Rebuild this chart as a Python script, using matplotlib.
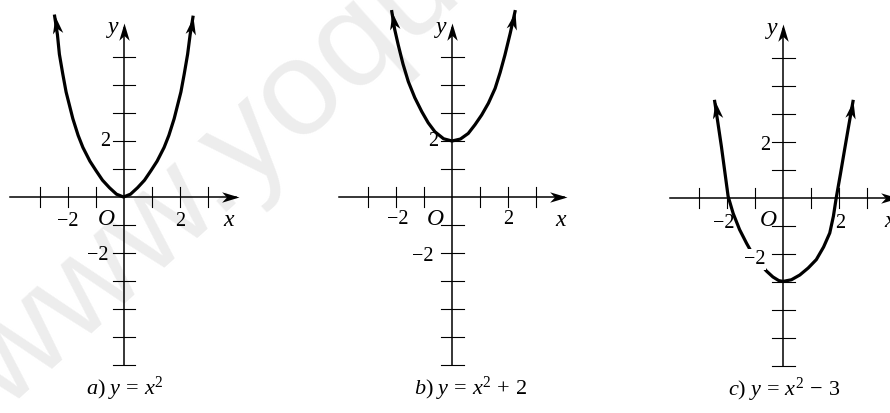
import numpy as np
import matplotlib
matplotlib.use("Agg")
import matplotlib.pyplot as plt
from matplotlib.markers import MarkerStyle
from matplotlib.path import Path
from matplotlib.transforms import Affine2D

plt.rcParams['font.family'] = ['Liberation Serif', 'DejaVu Serif']
plt.rcParams['mathtext.fontset'] = 'custom'
plt.rcParams['mathtext.rm'] = 'Liberation Serif'
plt.rcParams['mathtext.it'] = 'Liberation Serif:italic'

# curve points (x, y in axis units)
xa = [-2.46, -2.36, -2.29, -2.17, -2.05, -1.81, -1.62, -1.45, -1.2, -0.98, -0.75, -0.5, -0.25, 0,
      0.25, 0.5, 0.75, 0.98, 1.2, 1.45, 1.62, 1.81, 2.05, 2.17, 2.29, 2.38, 2.48]
ya = [6.46, 5.8, 5.1, 4.4, 3.75, 2.8, 2.2, 1.77, 1.28, 0.94, 0.6, 0.33, 0.1, 0,
      0.1, 0.33, 0.6, 0.94, 1.28, 1.77, 2.2, 2.8, 3.75, 4.4, 5.1, 5.8, 6.42]

xb = [-2.15, -2.05, -1.92, -1.75, -1.56, -1.33, -1.08, -0.85, -0.61, -0.3, 0,
      0.3, 0.58, 0.82, 1.06, 1.3, 1.54, 1.72, 1.89, 2.08, 2.25]
yb = [6.62, 6.0, 5.43, 4.75, 4.12, 3.55, 3.05, 2.65, 2.33, 2.08, 2.0,
      2.07, 2.27, 2.58, 2.93, 3.35, 3.88, 4.45, 5.07, 5.85, 6.62]

xc = [-2.44, -2.32, -2.2, -2.08, -1.96, -1.78, -1.55, -1.3, -1.07, -0.85, -0.6, -0.36, -0.15, 0,
      0.3, 0.6, 0.9, 1.19, 1.45, 1.67, 1.8, 1.9, 2.05, 2.2, 2.35, 2.5]
yc = [3.45, 2.65, 1.84, 0.95, 0.06, -0.55, -1.13, -1.62, -2.03, -2.3, -2.6, -2.82, -2.95, -2.98,
      -2.92, -2.75, -2.5, -2.2, -1.75, -1.25, -0.65, 0.0, 0.85, 1.73, 2.6, 3.45]

x_ticks = [-3, -2, -1, 1, 2, 3]
y_ticks = [5, 4, 3, 2, 1, -1, -2, -3, -4, -5, -6]

captions = [r'$a)\ y\,=\,x^2$', r'$b)\ y\,=\,x^2\,+\,2$', r'$c)\ y\,=\,x^2\,-\,3$']

W, H = 890, 413
PX = 28  # pixels per unit
origins = [(123.5, 197), (452, 197), (783, 198)]

fig = plt.figure(figsize=(W / 100, H / 100), dpi=100)

# faint watermark
fig.text(4 / W, 1 - 412 / H, 'www.yoquieroaprobar.es', fontsize=98, color='#ededed',
         family='Liberation Sans', rotation=42, rotation_mode='anchor',
         ha='left', va='baseline', zorder=-5)

STEALTH = Path([(0, 0), (-1, 0.3), (-0.72, 0), (-1, -0.3), (0, 0)],
               [Path.MOVETO, Path.LINETO, Path.LINETO, Path.LINETO, Path.CLOSEPOLY])


def arrowhead(ax, x0, y0, x1, y1, ms=25):
    ang = np.degrees(np.arctan2(y1 - y0, x1 - x0))
    m = MarkerStyle(STEALTH, transform=Affine2D().rotate_deg(ang))
    ax.plot([x1], [y1], marker=m, ms=ms, color='k', mew=0, clip_on=False, zorder=4)


def panel(ox, oy, xs, ys, caption, cap_x, labels, o_x, xl_x):
    left = ox - 4.5 * PX
    bottom = (H - oy) - 7.0 * PX
    ax = fig.add_axes([left / W, bottom / H, 9 * PX / W, 14.3 * PX / H])
    ax.set_xlim(-4.5, 4.5)
    ax.set_ylim(-7.0, 7.3)
    ax.axis('off')

    # axes with arrows
    ax.plot([-4.05, 4.0], [0, 0], color='k', lw=1.1, clip_on=False)
    arrowhead(ax, 0, 0, 4.12, 0)
    ax.plot([0, 0], [-6, 6.05], color='k', lw=1.1, clip_on=False)
    arrowhead(ax, 0, 0, 0, 6.2)
    for t in x_ticks:
        ax.plot([t, t], [-0.36, 0.36], color='k', lw=0.8)
    for t in y_ticks:
        ax.plot([-0.38, 0.42], [t, t], color='k', lw=0.8)

    # curve
    ax.plot(xs, ys, color='k', lw=2.3, solid_joinstyle='round', zorder=3, clip_on=False)
    arrowhead(ax, xs[1], ys[1], xs[0], ys[0])
    arrowhead(ax, xs[-2], ys[-2], xs[-1], ys[-1])

    # labels
    for (tx, ty, s, box) in labels:
        kw = {}
        if box:
            kw['bbox'] = dict(fc='white', ec='none', pad=0.5)
        ax.text(tx, ty, s, fontsize=14.5, ha='center', va='center', zorder=5, **kw)
    ax.text(o_x, -0.8, 'O', fontsize=17, style='italic', ha='center', va='center')
    ax.text(xl_x, -0.85, 'x', fontsize=17, style='italic', ha='center', va='center')
    ax.text(-0.38, 6.05, 'y', fontsize=17, style='italic', ha='center', va='center')
    ax.text(cap_x, -6.85, caption, fontsize=16, ha='center', va='center')
    return ax


panel(*origins[0], xa, ya, captions[0], 0.05,
      [(-1.98, -0.88, '\u22122', False), (2.02, -0.88, '2', False),
       (-0.66, 2.0, '2', False), (-0.91, -2.1, '\u22122', False)], -0.6, 3.75)
panel(*origins[1], xb, yb, captions[1], 0.65,
      [(-1.93, -0.8, '\u22122', False), (2.0, -0.8, '2', False),
       (-0.67, 1.97, '2', False), (-1.05, -2.14, '\u22122', False)], -0.6, 3.86)
panel(*origins[2], xc, yc, captions[2], 0.05,
      [(-2.13, -0.9, '\u22122', False), (2.04, -0.9, '2', False),
       (-0.64, 1.89, '2', False), (-1.0, -2.2, '\u22122', True)], -0.54, 3.82)

fig.savefig('out.png', dpi=100)
